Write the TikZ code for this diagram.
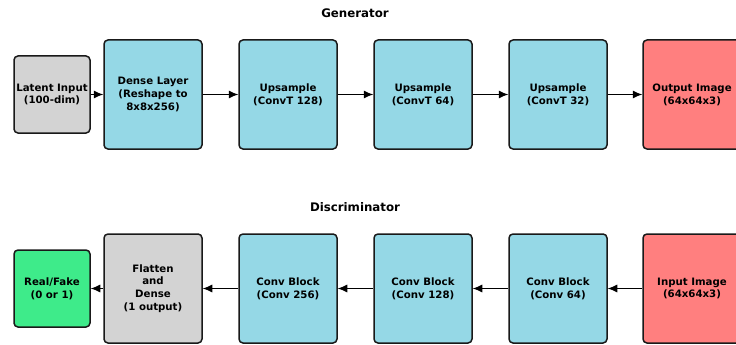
\documentclass[tikz,border=0pt]{standalone}
\usepackage{fontspec}
\setmainfont{DejaVu Sans}
\usetikzlibrary{arrows.meta}
\definecolor{blk}{HTML}{95D8E6}
\definecolor{redc}{HTML}{FF7F7F}
\definecolor{grn}{HTML}{3EEB8A}
\definecolor{gry}{HTML}{D3D3D3}
\begin{document}
\begin{tikzpicture}[x=1pt,y=-1pt,
  box/.style={draw=black!90, line width=1.5pt, rounded corners=4pt, align=center,
    font=\fontsize{10.2}{12.8}\selectfont\bfseries, inner sep=0pt},
  big/.style={box, minimum width=98pt, minimum height=109pt},
  small/.style={box, minimum width=76pt, minimum height=77pt},
  arr/.style={-{Latex[length=9.5pt,width=8pt]}, line width=0.9pt},
  ttl/.style={font=\fontsize{11.8}{13}\selectfont\bfseries}]
\useasboundingbox (0,0) rectangle (736,345);
\clip (0,0) rectangle (736,345);
\node[ttl] (gt) at (355,13) {Generator};
\node[ttl] (dt) at (355,207) {Discriminator};
% generator
\node[small, fill=gry] (g0) at (52,94.5) {Latent Input\\(100-dim)};
\node[big, fill=blk] (g1) at (153,94.5) {Dense Layer\\(Reshape to\\8x8x256)};
\node[big, fill=blk] (g2) at (288,94.5) {Upsample\\(ConvT 128)};
\node[big, fill=blk] (g3) at (423,94.5) {Upsample\\(ConvT 64)};
\node[big, fill=blk] (g4) at (558,94.5) {Upsample\\(ConvT 32)};
\node[big, fill=redc] (g5) at (692,94.5) {Output Image\\(64x64x3)};
\draw[arr] (g0) -- (g1);
\draw[arr] (g1) -- (g2);
\draw[arr] (g2) -- (g3);
\draw[arr] (g3) -- (g4);
\draw[arr] (g4) -- (g5);
% discriminator
\node[small, fill=grn] (d0) at (52,288.5) {Real/Fake\\(0 or 1)};
\node[big, fill=gry] (d1) at (153,288.5) {Flatten\\and\\Dense\\(1 output)};
\node[big, fill=blk] (d2) at (288,288.5) {Conv Block\\(Conv 256)};
\node[big, fill=blk] (d3) at (423,288.5) {Conv Block\\(Conv 128)};
\node[big, fill=blk] (d4) at (558,288.5) {Conv Block\\(Conv 64)};
\node[big, fill=redc] (d5) at (692,288.5) {Input Image\\(64x64x3)};
\draw[arr] (d5) -- (d4);
\draw[arr] (d4) -- (d3);
\draw[arr] (d3) -- (d2);
\draw[arr] (d2) -- (d1);
\draw[arr] (d1) -- (d0);
\end{tikzpicture}
\end{document}
